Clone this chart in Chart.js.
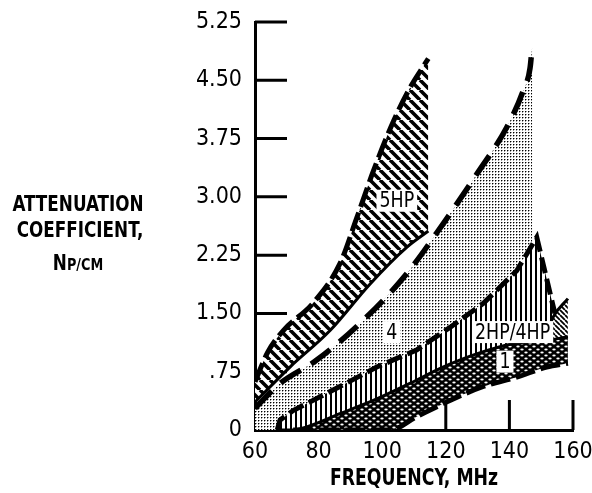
<!DOCTYPE html>
<html>
<head>
<meta charset="utf-8">
<script src="https://cdn.jsdelivr.net/npm/chart.js@4.4.0/dist/chart.umd.min.js"></script>
<style>
    html, body { margin: 0; padding: 0; background: #fff; }
    #wrap { width: 592px; height: 493px; position: relative; }
</style>
</head>
<body>
<div id="wrap"><canvas id="myChart"></canvas></div>
<script>
//----------- Data -----------
var xTicks = [60, 80, 100, 120, 140, 160];
var xTickLabels = ['60', '80', '100', '120', '140', '160'];
var yTicks = [0, 0.75, 1.5, 2.25, 3, 3.75, 4.5, 5.25];
var yTickLabels = ['0', '.75', '1.50', '2.25', '3.00', '3.75', '4.50', '5.25'];

var xTitle = 'FREQUENCY, MHz';
var yTitle = ['ATTENUATION', 'COEFFICIENT,', 'Np/cm'];

// band 5HP (diagonal hatch)
var freq5Top = [60, 64, 68.9, 78.2, 86.7, 92, 97.2, 103.5, 108.7, 112, 114.5];
var att5Top  = [0.62, 1.0, 1.28, 1.63, 2.14, 2.73, 3.33, 3.97, 4.40, 4.62, 4.78];
var freq5Bot = [60, 71, 83.6, 96.2, 107.7, 114.5];
var att5Bot  = [0.36, 0.81, 1.28, 1.88, 2.35, 2.56];

// band 4 (stipple)
var freq4Top = [60, 67.9, 79.4, 94, 107.7, 119.1, 129.7, 139.1, 144.3, 146.5, 147.2];
var att4Top  = [0.28, 0.60, 0.90, 1.41, 2.01, 2.65, 3.29, 3.89, 4.36, 4.66, 4.95];
var freq4Bot = [60, 67, 67.9, 72, 76.3, 86.7, 98.3, 110.8, 121.3, 131.8, 142.3, 148.6];
var att4Bot  = [0, 0, 0.13, 0.25, 0.34, 0.56, 0.81, 1.03, 1.32, 1.63, 2.05, 2.48];

// band 2HP/4HP (vertical hatch)
var freq24Top = [67, 67.9, 72, 76.3, 86.7, 98.3, 110.8, 121.3, 131.8, 142.3, 148.6, 154.3];
var att24Top  = [0, 0.13, 0.25, 0.34, 0.56, 0.81, 1.03, 1.32, 1.63, 2.05, 2.48, 1.50];

// small region at the right edge (dense diagonal hatch)
var freqRTop = [151, 153.7, 158.4];
var attRTop  = [1.15, 1.45, 1.69];

// band 1 (crosshatch)
var freq1Top = [67, 72, 76.3, 86.7, 97.2, 108.7, 119.1, 129.7, 141.2, 151.7, 158.4];
var att1Top  = [0, 0, 0.04, 0.21, 0.38, 0.60, 0.81, 0.98, 1.11, 1.15, 1.2];
var freq1Bot = [72, 102.5, 110.8, 121.3, 131.8, 142.3, 151.7, 158.4];
var att1Bot  = [0, 0, 0.17, 0.38, 0.56, 0.68, 0.81, 0.86];

// band labels
var bandNames = ['5HP', '4', '2HP/4HP', '1'];
var bandFreq  = [104.6, 103, 141, 138.6];
var bandAtt   = [2.95, 1.26, 1.26, 0.88];

var FONT = "'DejaVu Sans Condensed', 'DejaVu Sans', sans-serif";

function pts(xs, ys) {
    return xs.map(function (x, i) { return {x: x, y: ys[i]}; });
}

//----------- Patterns (opaque, on white paper) -----------
var ctx = document.getElementById('myChart').getContext('2d');

function makePattern(w, h, drawFn) {
    var c = document.createElement('canvas');
    c.width = w; c.height = h;
    var g = c.getContext('2d');
    g.fillStyle = '#fff';
    g.fillRect(0, 0, w, h);
    drawFn(g, w, h);
    return ctx.createPattern(c, 'repeat');
}

var hatch5 = makePattern(10, 10, function (g, w, h) {
    g.strokeStyle = '#000'; g.lineWidth = 3.6;
    g.beginPath();
    [-w, 0, w].forEach(function (k) { g.moveTo(k, 0); g.lineTo(k + w, h); });
    g.stroke();
});
var stipple = makePattern(3, 3, function (g) {
    g.fillStyle = '#000';
    g.fillRect(0, 0, 1, 1);
    g.fillStyle = '#999';
    g.fillRect(1, 0, 1, 1);
    g.fillRect(0, 1, 1, 1);
});
var vHatch = makePattern(5, 4, function (g) {
    g.fillStyle = '#000';
    g.fillRect(0, 0, 2, 4);
});
var diagDense = makePattern(5, 5, function (g, w, h) {
    g.strokeStyle = '#000'; g.lineWidth = 1.8;
    g.beginPath();
    [-w, 0, w].forEach(function (k) { g.moveTo(k, 0); g.lineTo(k + w, h); });
    g.stroke();
});
var crossHatch = makePattern(8, 6, function (g) {
    g.fillStyle = '#000';
    g.fillRect(0, 0, 8, 6);
    g.fillStyle = '#fff';
    g.beginPath(); g.ellipse(2, 1.5, 1.7, 1.1, 0, 0, Math.PI * 2); g.fill();
    g.beginPath(); g.ellipse(6, 4.5, 1.7, 1.1, 0, 0, Math.PI * 2); g.fill();
});

// condensed text (no condensed face installed)
function narrowText(c, text, x, y, sx) {
    c.save();
    c.translate(x, y);
    c.scale(sx, 1);
    c.fillText(text, 0, 0);
    c.restore();
}

//----------- Plugins -----------
// inner tick marks (drawn under the bands)
var innerTicks = {
    id: 'innerTicks',
    beforeDraw: function (chart) {
        var c = chart.ctx, xs = chart.scales.x, ys = chart.scales.y, a = chart.chartArea;
        c.save();
        c.strokeStyle = '#000';
        c.lineWidth = 3;
        c.beginPath();
        yTicks.forEach(function (v) {
            if (v === 0) return;
            var py = ys.getPixelForValue(v);
            c.moveTo(a.left, py); c.lineTo(a.left + 32, py);
        });
        xTicks.forEach(function (v) {
            if (v === xs.min) return;
            var px = xs.getPixelForValue(v);
            c.moveTo(px, a.bottom); c.lineTo(px, a.bottom - 30);
        });
        c.stroke();
        c.restore();
    }
};

// band labels in white boxes + axis titles
var labelsPlugin = {
    id: 'bandLabels',
    afterDatasetsDraw: function (chart) {
        var c = chart.ctx, xs = chart.scales.x, ys = chart.scales.y;
        c.save();
        c.font = '22px ' + FONT;
        c.textAlign = 'center';
        c.textBaseline = 'middle';
        bandNames.forEach(function (name, i) {
            var px = xs.getPixelForValue(bandFreq[i]);
            var py = ys.getPixelForValue(bandAtt[i]);
            var w = c.measureText(name).width * 0.88 + 6;
            c.fillStyle = '#fff';
            c.fillRect(px - w / 2, py - 11, w, 22);
            c.fillStyle = '#000';
            narrowText(c, name, px, py + 1, 0.88);
        });
        c.restore();
    },
    afterDraw: function (chart) {
        var c = chart.ctx, a = chart.chartArea;
        var cx = 78;
        var lineY = [206, 232, 262];
        c.save();
        c.fillStyle = '#000';
        c.textBaseline = 'middle';
        c.textAlign = 'center';
        c.font = 'bold 21px ' + FONT;
        narrowText(c, yTitle[0], cx, lineY[0], 0.89);
        narrowText(c, yTitle[1], cx + 2, lineY[1], 0.89);
        // small caps for the unit
        var big = yTitle[2].charAt(0), small = yTitle[2].slice(1).toUpperCase();
        c.font = 'bold 21px ' + FONT;
        var wb = c.measureText(big).width * 0.89;
        c.font = 'bold 16px ' + FONT;
        var ws = c.measureText(small).width * 0.89;
        var x0 = cx - (wb + ws) / 2;
        c.textAlign = 'left';
        c.textBaseline = 'alphabetic';
        c.font = 'bold 21px ' + FONT;
        narrowText(c, big, x0, lineY[2] + 8, 0.89);
        c.font = 'bold 16px ' + FONT;
        narrowText(c, small, x0 + wb, lineY[2] + 8, 0.89);
        // x title
        c.textAlign = 'center';
        c.textBaseline = 'middle';
        c.font = 'bold 23px ' + FONT;
        narrowText(c, xTitle, (a.left + a.right) / 2, 479, 0.835);
        c.restore();
    }
};

//----------- Chart -----------
function BuildChart() {
    var myChart = new Chart(ctx, {
        type: 'line',
        data: {
            datasets: [
                { // 0: 5HP top
                    data: pts(freq5Top, att5Top), fill: 1, backgroundColor: hatch5,
                    borderColor: '#000', borderWidth: 5, borderDash: [20, 6]
                },
                { // 1: 5HP bottom
                    data: pts(freq5Bot, att5Bot), fill: false,
                    borderColor: '#000', borderWidth: 3
                },
                { // 2: band 1 top
                    data: pts(freq1Top, att1Top), fill: 3, backgroundColor: crossHatch,
                    borderColor: '#000', borderWidth: 3
                },
                { // 3: band 1 bottom
                    data: pts(freq1Bot, att1Bot), fill: false,
                    borderColor: '#000', borderWidth: 5, borderDash: [20, 6]
                },
                { // 4: right small region
                    data: pts(freqRTop, attRTop), fill: 2, backgroundColor: diagDense,
                    borderColor: '#000', borderWidth: 3
                },
                { // 5: 2HP/4HP top
                    data: pts(freq24Top, att24Top), fill: 2, backgroundColor: vHatch,
                    borderColor: '#000', borderWidth: 5, borderDash: [16, 6],
                    cubicInterpolationMode: 'default', tension: 0
                },
                { // 6: band 4 top
                    data: pts(freq4Top, att4Top), fill: 7, backgroundColor: stipple,
                    borderColor: '#000', borderWidth: 5.5, borderDash: [24, 12]
                },
                { // 7: band 4 lower edge
                    data: pts(freq4Bot, att4Bot), fill: false,
                    borderColor: 'rgba(0,0,0,0)', borderWidth: 0,
                    cubicInterpolationMode: 'default', tension: 0
                }
            ]
        },
        options: {
            responsive: true,
            maintainAspectRatio: false,
            animation: false,
            elements: {
                point: { radius: 0, hoverRadius: 0 },
                line: { cubicInterpolationMode: 'monotone' }
            },
            layout: { padding: { top: 22, right: 19, left: 0, bottom: 0 } },
            plugins: {
                legend: { display: false },
                tooltip: { enabled: false },
                filler: { drawTime: 'beforeDatasetsDraw' }
            },
            scales: {
                x: {
                    type: 'linear', min: 60, max: 160,
                    afterBuildTicks: function (s) { s.ticks = xTicks.map(function (v) { return {value: v}; }); },
                    afterFit: function (s) { s.height = 63; s.paddingLeft = 0; s.paddingRight = 0; },
                    grid: { display: false, drawTicks: false },
                    border: { display: true, color: '#000', width: 3 },
                    ticks: {
                        color: '#000', padding: 8, maxRotation: 0, autoSkip: false,
                        font: { family: FONT, size: 23 },
                        callback: function (v) { return xTickLabels[xTicks.indexOf(v)]; }
                    }
                },
                y: {
                    type: 'linear', min: 0, max: 5.25,
                    afterBuildTicks: function (s) { s.ticks = yTicks.map(function (v) { return {value: v}; }); },
                    afterFit: function (s) { s.width = 255; s.paddingTop = 0; s.paddingBottom = 0; },
                    grid: { display: false, drawTicks: false },
                    border: { display: true, color: '#000', width: 3 },
                    ticks: {
                        color: '#000', padding: 13, autoSkip: false,
                        font: { family: FONT, size: 23 },
                        callback: function (v) { return yTickLabels[yTicks.indexOf(v)]; }
                    }
                }
            }
        },
        plugins: [innerTicks, labelsPlugin]
    });
    return myChart;
}

BuildChart();
</script>
</body>
</html>
